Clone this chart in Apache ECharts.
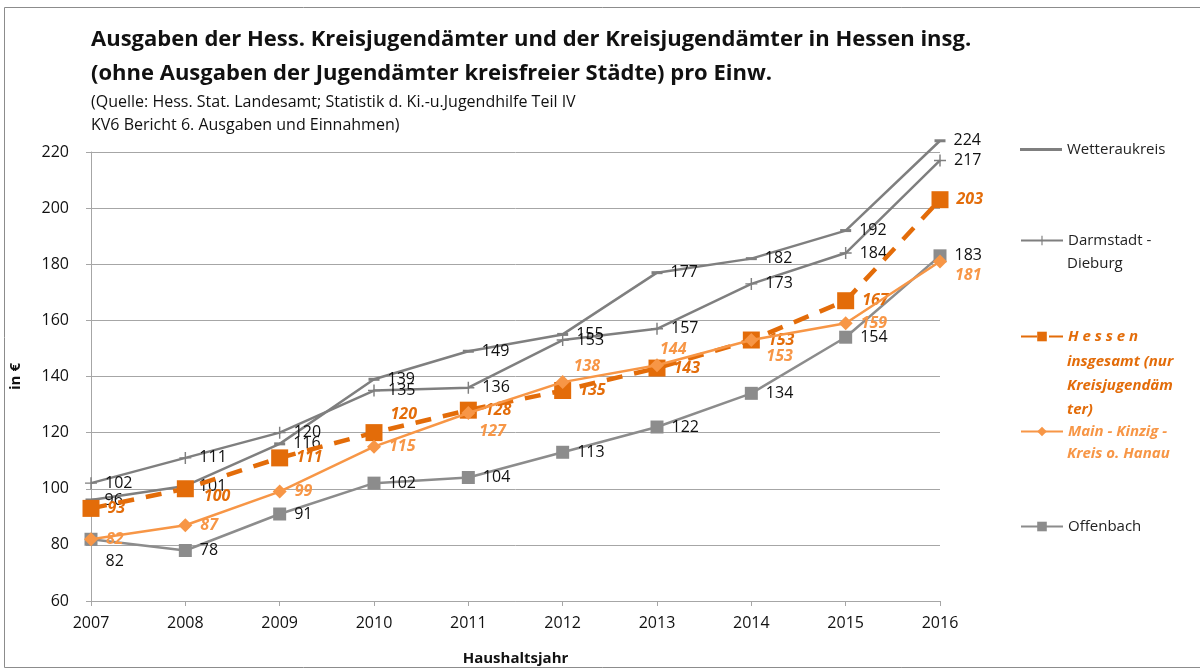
<!DOCTYPE html>
<html>
<head>
<meta charset="utf-8">
<script src="https://cdn.jsdelivr.net/npm/echarts@6/dist/echarts.min.js"></script>
<style>
    html, body { margin: 0; padding: 0; background: #fff; }
    #chart { width: 1200px; height: 671px; }
</style>
</head>
<body>
<div id="chart"></div>
<script>
    // Haushaltsjahre
    const years = ['2007', '2008', '2009', '2010', '2011', '2012', '2013', '2014', '2015', '2016']
    const yTicks = [60, 80, 100, 120, 140, 160, 180, 200, 220]

    // Ausgaben pro Einwohner in €
    const wetterau = [96, 101, 116, 139, 149, 155, 177, 182, 192, 224]
    const darmstadt = [102, 111, 120, 135, 136, 153, 157, 173, 184, 217]
    const hessen = [93, 100, 111, 120, 128, 135, 143, 153, 167, 203]
    const mainKinzig = [82, 87, 99, 115, 127, 138, 144, 153, 159, 181]
    const offenbach = [82, 78, 91, 102, 104, 113, 122, 134, 154, 183]

    const FONT = 'Open Sans'
    const GREY = '#7f7f7f'
    const ORANGE = '#e36c09'
    const LIGHT = '#f79646'

    const myChart = echarts.init(document.getElementById('chart'))

    // ein paar Beschriftungen sitzen nicht rechts vom Punkt
    function withOffsets (values, offsets) {
        return values.map((v, i) => offsets[i] ? { value: v, label: { offset: offsets[i] } } : v)
    }

    const plusPath = 'path://M4.4,0h1.2v4.4h4.4v1.2h-4.4v4.4h-1.2v-4.4h-4.4v-1.2h4.4z'

    let legendBase = {
        left: 1020,
        orient: 'vertical',
        padding: 0,
        itemWidth: 42,
        itemHeight: 12,
        textStyle: { fontFamily: FONT, fontSize: 15, color: '#222' }
    }

    let option = {
        animation: false,
        textStyle: { fontFamily: FONT },
        title: [{
            text: 'Ausgaben der Hess. Kreisjugendämter und der Kreisjugendämter in Hessen insg.\n(ohne Ausgaben der Jugendämter kreisfreier Städte) pro Einw.',
            left: 86,
            top: 18,
            textStyle: { fontFamily: FONT, fontSize: 22, fontWeight: 'bold', color: '#111', lineHeight: 34 }
        }, {
            text: '(Quelle: Hess. Stat. Landesamt; Statistik d. Ki.-u.Jugendhilfe Teil IV\nKV6 Bericht 6. Ausgaben und Einnahmen)',
            left: 86,
            top: 86,
            textStyle: { fontFamily: FONT, fontSize: 16, fontWeight: 'normal', color: '#111', lineHeight: 23 }
        }],
        legend: [
            Object.assign({}, legendBase, { top: 142, itemHeight: 3, data: [{ name: 'Wetteraukreis', icon: 'rect' }] }),
            Object.assign({}, legendBase, { top: 233, data: ['Darmstadt - Dieburg'], formatter: () => 'Darmstadt -' }),
            Object.assign({}, legendBase, {
                top: 329,
                data: [{ name: 'Hessen insgesamt (nur Kreisjugendämter)', textStyle: { color: ORANGE, fontWeight: 'bold', fontStyle: 'italic' } }],
                formatter: () => 'H e s s e n'
            }),
            Object.assign({}, legendBase, {
                top: 424,
                data: [{ name: 'Main - Kinzig - Kreis o. Hanau', textStyle: { color: LIGHT, fontWeight: 'bold', fontStyle: 'italic' } }],
                formatter: () => 'Main - Kinzig -'
            }),
            Object.assign({}, legendBase, { top: 519, data: ['Offenbach'] })
        ],
        graphic: [
            {
                type: 'rect', silent: true,
                shape: { x: 4.5, y: 7.5, width: 1200, height: 660 },
                style: { fill: 'none', stroke: '#8c8c8c', lineWidth: 1 }
            },
            {
                type: 'text', left: 1067, top: 256,
                style: { text: 'Dieburg', fontFamily: FONT, fontSize: 15, fill: '#222' }
            },
            {
                type: 'text', left: 1067, top: 350,
                style: { text: 'insgesamt (nur\nKreisjugendäm\nter)', fontFamily: FONT, fontSize: 15, fontWeight: 'bold', fontStyle: 'italic', fill: ORANGE, lineHeight: 24 }
            },
            {
                type: 'text', left: 1067, top: 446,
                style: { text: 'Kreis o. Hanau', fontFamily: FONT, fontSize: 15, fontWeight: 'bold', fontStyle: 'italic', fill: LIGHT }
            }
        ],
        grid: {
            left: 91,
            right: 260,
            top: 152,
            bottom: 70
        },
        xAxis: {
            type: 'category',
            data: years,
            boundaryGap: false,
            name: 'Haushaltsjahr',
            nameLocation: 'middle',
            nameGap: 50,
            nameTextStyle: { fontFamily: FONT, fontSize: 15, fontWeight: 'bold', color: '#111' },
            axisLine: { lineStyle: { color: '#a6a6a6' } },
            axisTick: { show: true, alignWithLabel: true, length: 5, lineStyle: { color: '#a6a6a6' } },
            axisLabel: { fontFamily: FONT, fontSize: 16, color: '#111', margin: 14 },
            splitLine: { show: false }
        },
        yAxis: {
            type: 'value',
            min: yTicks[0],
            max: yTicks[yTicks.length - 1],
            interval: 20,
            name: 'in €',
            nameLocation: 'middle',
            nameGap: 68,
            nameRotate: 90,
            nameTextStyle: { fontFamily: FONT, fontSize: 15, fontWeight: 'bold', color: '#111' },
            axisLine: { show: true, lineStyle: { color: '#a6a6a6' } },
            axisTick: { show: true, length: 5, lineStyle: { color: '#a6a6a6' } },
            axisLabel: { fontFamily: FONT, fontSize: 16, color: '#111', margin: 22 },
            splitLine: { lineStyle: { color: '#a6a6a6' } }
        },
        series: [
            {
                name: 'Wetteraukreis',
                type: 'line',
                clip: false,
                data: wetterau,
                symbol: 'rect',
                symbolSize: [11, 3],
                lineStyle: { width: 2.5, color: GREY },
                itemStyle: { color: GREY },
                label: { show: true, position: 'right', distance: 8, fontFamily: FONT, fontSize: 16, color: '#111' },
                z: 3
            },
            {
                name: 'Darmstadt - Dieburg',
                type: 'line',
                clip: false,
                data: darmstadt,
                symbol: plusPath,
                symbolSize: 12,
                lineStyle: { width: 2.5, color: GREY },
                itemStyle: { color: GREY },
                label: { show: true, position: 'right', distance: 8, fontFamily: FONT, fontSize: 16, color: '#111' },
                z: 3
            },
            {
                name: 'Hessen insgesamt (nur Kreisjugendämter)',
                type: 'line',
                clip: false,
                data: withOffsets(hessen, { 1: [2, 8], 3: [0, -18] }),
                symbol: 'rect',
                symbolSize: 17,
                lineStyle: { width: 4.5, color: ORANGE, type: [16, 12] },
                itemStyle: { color: ORANGE },
                label: { show: true, position: 'right', distance: 8, fontFamily: FONT, fontSize: 16, fontWeight: 'bold', fontStyle: 'italic', color: ORANGE },
                z: 4
            },
            {
                name: 'Main - Kinzig - Kreis o. Hanau',
                type: 'line',
                clip: false,
                data: withOffsets(mainKinzig, { 4: [-4, 18], 5: [-4, -16], 6: [-12, -16], 7: [0, 16], 9: [0, 14] }),
                symbol: 'diamond',
                symbolSize: 14,
                lineStyle: { width: 2.5, color: LIGHT },
                itemStyle: { color: LIGHT },
                label: { show: true, position: 'right', distance: 8, fontFamily: FONT, fontSize: 16, fontWeight: 'bold', fontStyle: 'italic', color: LIGHT },
                z: 5
            },
            {
                name: 'Offenbach',
                type: 'line',
                clip: false,
                data: withOffsets(offenbach, { 0: [0, 22] }),
                symbol: 'rect',
                symbolSize: 13,
                lineStyle: { width: 2.5, color: '#8c8c8c' },
                itemStyle: { color: '#8c8c8c' },
                label: { show: true, position: 'right', distance: 8, fontFamily: FONT, fontSize: 16, color: '#111' },
                z: 3
            }
        ]
    }
    myChart.setOption(option)
</script>
</body>
</html>
